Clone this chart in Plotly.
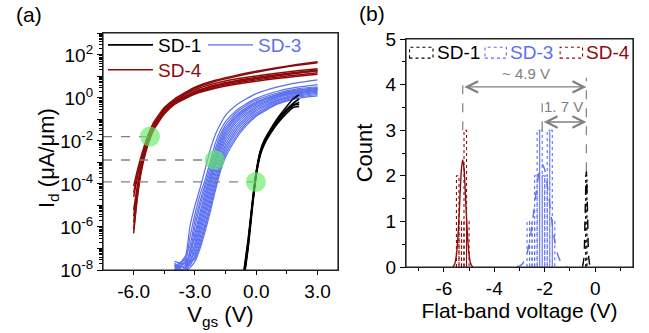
import numpy as np
import plotly.graph_objects as go

FONT = "Liberation Sans, Arial, sans-serif"
RED = "#8e0b0b"
BLUE = "#5b6ff0"
BLACK = "#000000"
GRAY = "#808080"
W, H = 649, 333

# ---------------- (a) transfer curves: log10(Id / uA/um) versus Vgs ----------------
vgs_sd4 = [-6.0, -5.8, -5.6, -5.4, -5.2, -5.0, -4.5, -4.0, -3.0, -2.0, -1.0, 0.0, 1.0, 2.0, 3.0]
sd4_log_id = [
    [-4.1, -3.3, -2.6, -2.0, -1.5, -1.1, -0.45, -0.05, 0.5, 0.82, 1.05, 1.24, 1.4, 1.55, 1.68],
    [-4.6, -3.6, -2.8, -2.15, -1.6, -1.2, -0.5, -0.1, 0.45, 0.78, 1.0, 1.2, 1.37, 1.52, 1.64],
    [-6.3, -4.4, -3.2, -2.4, -1.85, -1.4, -0.7, -0.25, 0.25, 0.55, 0.75, 0.9, 1.03, 1.15, 1.27],
    [-5.2, -4.0, -3.0, -2.3, -1.75, -1.3, -0.6, -0.2, 0.3, 0.6, 0.8, 0.95, 1.08, 1.2, 1.3],
    [-5.8, -4.2, -3.1, -2.35, -1.8, -1.35, -0.68, -0.25, 0.22, 0.5, 0.7, 0.84, 0.96, 1.07, 1.17],
    [-4.4, -3.5, -2.75, -2.1, -1.62, -1.22, -0.55, -0.12, 0.38, 0.68, 0.88, 1.02, 1.15, 1.26, 1.36],
    [-6.1, -4.5, -3.3, -2.5, -1.9, -1.45, -0.75, -0.3, 0.18, 0.45, 0.64, 0.78, 0.9, 1.01, 1.1],
    [-5.5, -4.1, -3.05, -2.3, -1.75, -1.32, -0.62, -0.18, 0.28, 0.58, 0.78, 0.92, 1.05, 1.17, 1.27],
]

vgs_sd3 = [-4.0, -3.5, -3.25, -3.0, -2.75, -2.5, -2.25, -2.0, -1.75, -1.5, -1.0, -0.5, 0.0, 1.0, 2.0, 3.0]
sd3_log_id = [
    [-7.8, -7.5, -6.0, -5.0, -4.2, -3.3, -2.4, -1.7, -1.2, -0.8, -0.35, -0.05, 0.2, 0.5, 0.7, 0.84],
    [-7.6, -7.7, -6.5, -5.4, -4.5, -3.8, -2.95, -2.1, -1.5, -1.1, -0.6, -0.28, -0.02, 0.3, 0.5, 0.62],
    [-8.0, -7.4, -6.9, -5.7, -4.8, -4.0, -3.2, -2.35, -1.7, -1.25, -0.7, -0.36, -0.1, 0.22, 0.42, 0.52],
    [-7.7, -7.9, -7.2, -6.0, -5.0, -4.2, -3.4, -2.55, -1.85, -1.38, -0.8, -0.45, -0.18, 0.16, 0.36, 0.47],
    [-8.2, -7.6, -7.4, -6.3, -5.3, -4.4, -3.6, -2.75, -2.0, -1.5, -0.88, -0.5, -0.22, 0.14, 0.35, 0.46],
    [-7.8, -8.0, -7.1, -6.5, -5.5, -4.6, -3.75, -2.9, -2.15, -1.6, -0.95, -0.56, -0.27, 0.1, 0.33, 0.44],
    [-8.1, -7.5, -7.6, -6.7, -5.7, -4.8, -3.9, -3.05, -2.3, -1.72, -1.05, -0.63, -0.33, 0.06, 0.28, 0.4],
    [-7.9, -7.8, -7.3, -6.9, -5.9, -5.0, -4.1, -3.2, -2.45, -1.85, -1.15, -0.72, -0.4, 0.02, 0.26, 0.38],
    [-8.3, -7.6, -7.7, -7.0, -6.1, -5.2, -4.3, -3.4, -2.6, -2.0, -1.28, -0.8, -0.47, -0.03, 0.22, 0.35],
    [-7.7, -8.1, -7.5, -7.2, -6.3, -5.4, -4.5, -3.6, -2.8, -2.15, -1.4, -0.9, -0.55, -0.1, 0.18, 0.32],
    [-8.0, -7.7, -7.8, -7.3, -6.5, -5.6, -4.7, -3.8, -2.95, -2.3, -1.52, -1.0, -0.62, -0.15, 0.12, 0.27],
    [-8.2, -7.9, -7.6, -7.5, -6.7, -5.85, -4.9, -3.95, -3.1, -2.45, -1.65, -1.1, -0.7, -0.2, 0.08, 0.22],
    [-7.8, -8.2, -7.7, -7.4, -6.85, -6.0, -5.1, -4.15, -3.25, -2.6, -1.78, -1.2, -0.78, -0.25, 0.03, 0.16],
    [-8.3, -8.1, -7.9, -7.6, -7.0, -6.2, -5.3, -4.3, -3.4, -2.75, -1.9, -1.3, -0.85, -0.3, -0.02, 0.1],
]

vgs_sd1 = [-0.6, -0.4, -0.2, 0.0, 0.2, 0.4, 0.7, 1.0, 1.4, 1.8, 2.1]
sd1_log_id = [
    [-8.0, -6.6, -4.9, -3.4, -2.45, -1.95, -1.45, -1.0, -0.5, -0.05, 0.15],
    [-8.2, -6.8, -5.0, -3.5, -2.55, -2.05, -1.55, -1.1, -0.62, -0.25, -0.05],
    [-8.3, -6.9, -5.1, -3.55, -2.6, -2.1, -1.6, -1.17, -0.7, -0.35, -0.2],
    [-8.1, -6.7, -5.0, -3.45, -2.5, -2.0, -1.5, -1.08, -0.66, -0.33, -0.3],
    [-8.4, -7.0, -5.2, -3.6, -2.65, -2.15, -1.65, -1.23, -0.8, -0.45, -0.4],
]

# threshold markers (Vgs, Id) for SD-4, SD-3, SD-1
vth_vgs = [-5.2, -2.03, -0.02]
vth_id = [1.6e-2, 1.3e-3, 1.25e-4]

# ---------------- (b) flat-band voltage histograms ----------------
sd4_bin_left = [-5.5, -5.4, -5.3, -5.2, -5.1]
sd4_counts = [2, 1, 1, 3, 1]
sd4_bin_width = 0.1
sd3_bin_left = [-2.7, -2.6, -2.5, -2.4, -2.3, -2.2, -2.1, -2.0, -1.9, -1.8, -1.7]
sd3_counts = [1, 1, 1, 2, 3, 3, 2, 2, 3, 3, 1]
sd3_bin_width = 0.1
sd1_bin_left = [-0.375]
sd1_counts = [2]
sd1_bin_width = 0.05

# fitted distributions
sd4_fit_v = [-5.65, -5.6, -5.55, -5.5, -5.45, -5.4, -5.35, -5.3, -5.25, -5.2, -5.15, -5.1, -5.05, -5.0, -4.95, -4.9, -4.85]
sd4_fit_n = [0.01, 0.03, 0.10, 0.27, 0.59, 1.08, 1.66, 2.16, 2.35, 2.16, 1.66, 1.08, 0.59, 0.27, 0.10, 0.03, 0.01]
sd3_fit_v = [-3.1, -3.0, -2.9, -2.8, -2.7, -2.6, -2.5, -2.4, -2.3, -2.2, -2.1, -2.0, -1.9, -1.8, -1.7, -1.6, -1.5, -1.4, -1.3, -1.2, -1.1]
sd3_fit_n = [0.01, 0.02, 0.06, 0.15, 0.30, 0.56, 0.93, 1.37, 1.80, 2.13, 2.25, 2.13, 1.80, 1.37, 0.93, 0.56, 0.30, 0.15, 0.06, 0.02, 0.01]
sd1_fit_v = [-0.5, -0.45, -0.4, -0.35, -0.3, -0.25, -0.2]
sd1_fit_n = [0.01, 0.18, 1.13, 2.1, 1.13, 0.18, 0.01]

# mean flat-band voltages and the spans marked between them
vfb_mean = [-5.25, -2.1, -0.35]
guide_low = [3.0, 3.0, 2.1]
guide_high = [4.05, 3.75, 4.15]
span_labels = ["~ 4.9 V", "1. 7 V"]

fig = go.Figure()

# ---- panel (a)
def curve_group(vgs, rows, color, width, name, legend, rank):
    for i, row in enumerate(rows):
        fig.add_trace(go.Scatter(
            x=vgs, y=np.power(10.0, row), mode="lines",
            line=dict(color=color, width=width, shape="spline", smoothing=0.5),
            name=f'<span style="color:{color}">{name}</span>',
            showlegend=(i == 0), legend=legend, legendrank=rank,
            xaxis="x", yaxis="y", hoverinfo="skip"))

curve_group(vgs_sd4, sd4_log_id, RED, 1.5, "SD-4", "legend2", 3)
curve_group(vgs_sd3, sd3_log_id, BLUE, 1.2, "SD-3", "legend", 2)
curve_group(vgs_sd1, sd1_log_id, BLACK, 1.6, "SD-1", "legend", 1)

for v, i_d in zip(vth_vgs, vth_id):
    fig.add_trace(go.Scatter(
        x=[-7.5, v], y=[i_d, i_d], mode="lines",
        line=dict(color=GRAY, width=1.3, dash="dash"),
        showlegend=False, xaxis="x", yaxis="y", hoverinfo="skip"))
fig.add_trace(go.Scatter(
    x=vth_vgs, y=vth_id, mode="markers",
    marker=dict(size=20, color="rgba(100,235,100,0.65)", line=dict(width=0)),
    showlegend=False, xaxis="x", yaxis="y", hoverinfo="skip"))

# ---- panel (b)
def outline_bars(lefts, counts, width, color):
    xs, ys = [], []
    for l, c in zip(lefts, counts):
        xs += [l, l, l + width, l + width, None]
        ys += [0, c, c, 0, None]
    fig.add_trace(go.Scatter(
        x=xs, y=ys, mode="lines", line=dict(color=color, width=1.1, dash="dot"),
        showlegend=False, xaxis="x2", yaxis="y2", hoverinfo="skip"))

outline_bars(sd4_bin_left, sd4_counts, sd4_bin_width, RED)
outline_bars(sd3_bin_left, sd3_counts, sd3_bin_width, BLUE)
outline_bars(sd1_bin_left, sd1_counts, sd1_bin_width, BLACK)

for vx, vy, col, dash in [(sd4_fit_v, sd4_fit_n, RED, "solid"),
                          (sd3_fit_v, sd3_fit_n, BLUE, "dash"),
                          (sd1_fit_v, sd1_fit_n, BLACK, "dash")]:
    fig.add_trace(go.Scatter(
        x=vx, y=vy, mode="lines", line=dict(color=col, width=1.4, dash=dash, shape="spline"),
        showlegend=False, xaxis="x2", yaxis="y2", hoverinfo="skip"))

for v, lo, hi in zip(vfb_mean, guide_low, guide_high):
    fig.add_trace(go.Scatter(
        x=[v, v], y=[lo, hi], mode="lines", line=dict(color=GRAY, width=1.2, dash="dash"),
        showlegend=False, xaxis="x2", yaxis="y2", hoverinfo="skip"))

annotations = []
arrow_y = [3.95, 3.18]
text_pos = [(-2.75, 4.24), (-1.25, 3.52)]
for start, ay, label, (tx, ty) in zip(vfb_mean[:2], arrow_y, span_labels, text_pos):
    annotations.append(dict(
        x=vfb_mean[2], y=ay, ax=start, ay=ay, xref="x2", yref="y2", axref="x2", ayref="y2",
        showarrow=True, arrowhead=5, startarrowhead=5, arrowside="end+start",
        arrowsize=1.6, startarrowsize=1.6, arrowwidth=1.4, arrowcolor=GRAY,
        standoff=0, startstandoff=0, text=""))
    annotations.append(dict(
        x=tx, y=ty, xref="x2", yref="y2", text=label, showarrow=False,
        font=dict(family=FONT, size=15, color=GRAY)))

# frames round both panels
shapes = [
    dict(type="rect", xref="x domain", yref="y domain", x0=0, x1=1, y0=0, y1=1,
         line=dict(color="#222222", width=1.2), fillcolor="rgba(0,0,0,0)", layer="above"),
    dict(type="rect", xref="x2 domain", yref="y2 domain", x0=0, x1=1, y0=0, y1=1,
         line=dict(color="#222222", width=1.2), fillcolor="rgba(0,0,0,0)", layer="above"),
]

# legend of panel (b): dashed boxes with coloured names
legend_b = [("SD-1", BLACK, -7.36, -6.43), ("SD-3", BLUE, -4.37, -3.52), ("SD-4", RED, -1.39, -0.50)]
for name, col, x0, x1 in legend_b:
    shapes.append(dict(type="rect", xref="x2", yref="y2", x0=x0, x1=x1, y0=4.58, y1=4.82,
                       line=dict(color=col, width=1.1, dash="dot"), fillcolor="rgba(0,0,0,0)"))
    annotations.append(dict(x=x1 + 0.06, y=4.7, xref="x2", yref="y2", text=name,
                            xanchor="left", showarrow=False,
                            font=dict(family=FONT, size=19, color=col)))

annotations.append(dict(x=14 / W, y=1 - 15 / H, xref="paper", yref="paper", text="(a)",
                        xanchor="left", yanchor="middle", showarrow=False,
                        font=dict(family=FONT, size=21, color=BLACK)))
annotations.append(dict(x=357 / W, y=1 - 13 / H, xref="paper", yref="paper", text="(b)",
                        xanchor="left", yanchor="middle", showarrow=False,
                        font=dict(family=FONT, size=21, color=BLACK)))
# y-axis title of panel (a)
annotations.append(dict(x=48 / W, y=1 - 158 / H, xref="paper", yref="paper",
                        text="I<sub>d</sub> (\u03bcA/\u03bcm)", textangle=-90,
                        xanchor="center", yanchor="middle", showarrow=False,
                        font=dict(family=FONT, size=22, color=BLACK)))

axis_common = dict(showline=True, linecolor="#222222", linewidth=1.2, mirror=True, showgrid=False,
                   zeroline=False, ticks="outside", tickcolor=BLACK, automargin=False,
                   tickfont=dict(family=FONT, size=19, color=BLACK))

decades = list(range(-8, 4))
minor_vals = [m * 10.0 ** d for d in range(-8, 3) for m in range(2, 10)]

fig.update_layout(
    width=W, height=H, margin=dict(l=0, r=0, t=0, b=0, autoexpand=False),
    paper_bgcolor="white", plot_bgcolor="white",
    font=dict(family=FONT, color=BLACK),
    xaxis=dict(axis_common, domain=[103 / W, 338 / W], range=[-7.5, 4], anchor="y",
               tickvals=[-6, -3, 0, 3], ticktext=["-6.0", "-3.0", "0.0", "3.0"], ticklen=4,
               minor=dict(tickvals=[-4.5, -1.5, 1.5], ticks="outside", ticklen=3, tickcolor=BLACK),
               title=dict(text="V<sub>gs</sub> (V)", font=dict(family=FONT, size=22), standoff=0)),
    yaxis=dict(axis_common, domain=[1 - 270 / H, 1 - 33 / H], type="log", range=[-8, 3.02], anchor="x",
               tickvals=[10.0 ** d for d in decades],
               ticktext=[f"10<sup>{d}</sup>" if d % 2 == 0 else "" for d in decades], ticklen=5,
               minor=dict(tickmode="array", tickvals=minor_vals, ticks="outside", ticklen=2.5, tickcolor=BLACK)),
    xaxis2=dict(axis_common, domain=[406 / W, 633 / W], range=[-7.5, 1.5], anchor="y2",
                tickvals=[-6, -4, -2, 0], ticktext=["-6", "-4", "-2", "0"], ticklen=4,
                minor=dict(tickvals=[-7, -5, -3, -1, 1], ticks="outside", ticklen=3, tickcolor=BLACK),
                title=dict(text="Flat-band voltage (V)", font=dict(family=FONT, size=21), standoff=0)),
    yaxis2=dict(axis_common, domain=[1 - 267 / H, 1 - 39 / H], range=[0, 5], anchor="x2",
                tickvals=[0, 1, 2, 3, 4, 5], ticklen=5,
                minor=dict(dtick=0.5, ticks="outside", ticklen=3, tickcolor=BLACK),
                title=dict(text="Count", font=dict(family=FONT, size=22), standoff=6)),
    legend=dict(x=103 / W, y=1 - 26 / H, xanchor="left", yanchor="top", orientation="h",
                bgcolor="rgba(0,0,0,0)", font=dict(family=FONT, size=19), itemwidth=45,
                entrywidth=40, entrywidthmode="pixels", tracegroupgap=0),
    legend2=dict(x=103 / W, y=1 - 51 / H, xanchor="left", yanchor="top", orientation="h",
                 bgcolor="rgba(0,0,0,0)", font=dict(family=FONT, size=19), itemwidth=45),
    annotations=annotations, shapes=shapes,
)

fig.write_html("out.html")
